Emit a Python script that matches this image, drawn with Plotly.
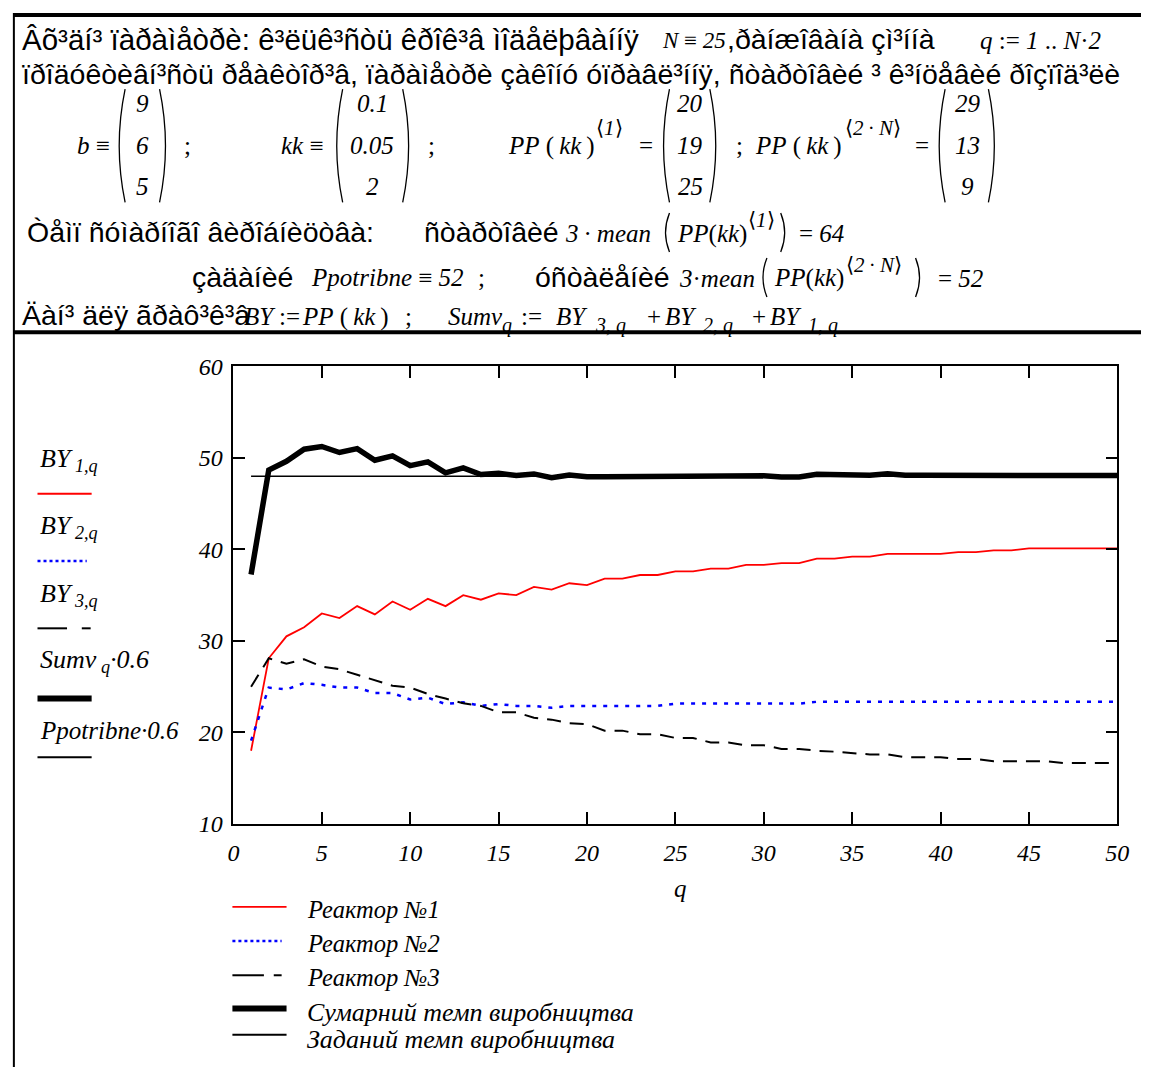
import plotly.graph_objects as go

# ---------------- data ----------------
q = list(range(1, 51))

BY1 = [18.0, 28.1, 30.5, 31.5, 33.0, 32.5, 33.8, 32.9, 34.3, 33.4,
       34.6, 33.8, 35.0, 34.5, 35.2, 35.0, 35.9, 35.6, 36.3, 36.1,
       36.8, 36.8, 37.2, 37.2, 37.6, 37.6, 37.9, 37.9, 38.3, 38.3,
       38.5, 38.5, 39.0, 39.0, 39.2, 39.2, 39.5, 39.5, 39.5, 39.5,
       39.7, 39.7, 39.9, 39.9, 40.1, 40.1, 40.1, 40.1, 40.1, 40.1]

BY2 = [19.1, 24.9, 24.7, 25.4, 25.2, 24.9, 24.9, 24.3, 24.3, 23.6,
       23.8, 23.1, 23.3, 22.9, 23.1, 22.9, 22.9, 22.7, 22.9, 22.9,
       22.9, 22.9, 22.9, 22.9, 23.15, 23.15, 23.15, 23.15, 23.15, 23.15,
       23.15, 23.15, 23.35, 23.35, 23.35, 23.35, 23.35, 23.35, 23.35, 23.35,
       23.35, 23.35, 23.35, 23.35, 23.35, 23.35, 23.35, 23.35, 23.35, 23.35]

BY3 = [25.0, 28.1, 27.5, 28.0, 27.2, 26.9, 26.3, 25.7, 25.1, 24.9,
       24.2, 23.7, 23.2, 22.9, 22.2, 22.2, 21.6, 21.4, 21.0, 20.9,
       20.2, 20.2, 19.8, 19.8, 19.4, 19.4, 18.9, 18.9, 18.6, 18.6,
       18.2, 18.2, 18.0, 17.9, 17.75, 17.6, 17.6, 17.3, 17.3, 17.3,
       17.1, 17.1, 16.85, 16.85, 16.85, 16.85, 16.65, 16.65, 16.65, 16.65]

SCALE = 0.6
# Sumv_q = BY3 + BY2 + BY1 (as defined in the worksheet), plotted times 0.6
SUMV_06 = [SCALE * (a + b + c) for a, b, c in zip(BY1, BY2, BY3)]
PPOTRIBNE_06 = 48.0
PP_LINE = [PPOTRIBNE_06 for _ in q]

X_TICKS = [0, 5, 10, 15, 20, 25, 30, 35, 40, 45, 50]
Y_TICKS = [10, 20, 30, 40, 50, 60]

B_VEC = ["9", "6", "5"]
KK_VEC = ["0.1", "0.05", "2"]
PP1_VEC = ["20", "19", "25"]
PP2N_VEC = ["29", "13", "9"]

LEGEND_NAMES = ["Реактор №1", "Реактор №2", "Реактор №3",
                "Сумарний темп виробництва", "Заданий темп виробництва"]

# ---------------- helpers ----------------
W, H = 1153, 1080
SANS = "Liberation Sans, Arial, sans-serif"
SERIF = "Liberation Serif, Times New Roman, serif"
SANS_SIZE = 28.5
MATH_SIZE = 25
SUP_SIZE = 21
SUB_SIZE = 20
SP = "\u00a0"
TH = "\u2009"


def moj(s):
    """Text as shown in the worksheet (cp1251 bytes displayed as Latin-1)."""
    return s.encode("cp1251").decode("latin-1")


def X(px):
    return px / W


def Y(py):
    return 1 - py / H


annotations = []
shapes = []


def txt(x, y, s, size=SANS_SIZE, family=SANS, italic=False, anchor="left", color="black"):
    annotations.append(dict(
        x=X(x), y=Y(y), xref="paper", yref="paper", text=s, showarrow=False,
        xanchor=anchor, yanchor="middle", borderpad=0,
        font=dict(family=family, size=size, color=color,
                  style="italic" if italic else "normal")))


def math(x, y, s, size=MATH_SIZE, anchor="left"):
    txt(x, y, s, size=size, family=SERIF, anchor=anchor)


def hline(x0, x1, y, width=1.5, color="black", dash="solid"):
    shapes.append(dict(type="line", xref="paper", yref="paper",
                       x0=X(x0), x1=X(x1), y0=Y(y), y1=Y(y),
                       line=dict(color=color, width=width, dash=dash)))


def vline(x, y0, y1, width=1.5, color="black"):
    shapes.append(dict(type="line", xref="paper", yref="paper",
                       x0=X(x), x1=X(x), y0=Y(y0), y1=Y(y1),
                       line=dict(color=color, width=width)))


def paren(x, top, bot, left=True, width=1.3, bulge=12, reach=8):
    mid = (top + bot) / 2
    if left:
        p = f"M {X(x+reach)},{Y(top)} Q {X(x+reach-bulge)},{Y(mid)} {X(x+reach)},{Y(bot)}"
    else:
        p = f"M {X(x-reach)},{Y(top)} Q {X(x-reach+bulge)},{Y(mid)} {X(x-reach)},{Y(bot)}"
    shapes.append(dict(type="path", xref="paper", yref="paper", path=p,
                       line=dict(color="black", width=width)))


def matrix(xl, xr, xc, vals):
    paren(xl, 78, 194, left=True)
    paren(xr, 78, 194, left=False)
    for v, yy in zip(vals, [93, 136, 178]):
        txt(xc, yy, v, size=MATH_SIZE, family=SERIF, italic=True, anchor="center")


PPKK_W = f"<i>PP</i>{SP}({TH}<i>kk</i>{TH})"
PPKK_N = "<i>PP</i>(<i>kk</i>)"
SUP1 = "⟨<i>1</i>⟩"
SUP2N = f"⟨<i>2</i>{TH}·{TH}<i>N</i>⟩"
MEAN3_W = f"<i>3</i>{TH}·{TH}<i>mean</i>"
MEAN3_N = "<i>3</i>·<i>mean</i>"

# ---------------- worksheet frame lines ----------------
hline(8, W, 2, width=4)
vline(8, 0, H, width=2)
hline(8, W, 327, width=4)

# ---------------- top text block ----------------
txt(15, 27, moj("Вхідні параметри: кількість кроків моделювання"), size=29.5)
math(665, 28, f"<i>N</i>{SP}≡{SP}<i>25</i>", size=23)
txt(731, 27, moj(",ранжована змінна"))
math(988, 28, f"<i>q</i>{SP}:={SP}<i>1</i>{SP}..{SP}<i>N</i>·<i>2</i>")
txt(15, 62, moj("продуктивність реакторів, параметри закону управління, стартовий і кінцевий розподіли"))

math(107, 136, f"<i>b</i>{SP}≡", anchor="right")
matrix(113, 164, 139, B_VEC)
math(180, 136, ";")
math(324, 136, f"<i>kk</i>{SP}≡", anchor="right")
matrix(334, 411, 372, KK_VEC)
math(428, 136, ";")
math(509, 136, PPKK_W)
math(598, 118, SUP1, size=SUP_SIZE)
math(642, 136, "=")
matrix(666, 723, 695, PP1_VEC)
math(741, 136, ";")
math(760, 136, PPKK_W)
math(851, 118, SUP2N, size=SUP_SIZE)
math(922, 136, "=")
matrix(946, 1006, 977, PP2N_VEC)

# line: total production rate
txt(20, 224, moj("Темп сумарного виробництва:"))
txt(424, 224, moj("стартовий"))
math(567, 226, MEAN3_W)
paren(668, 205, 245, left=True, width=1.3, bulge=8, reach=6)
math(681, 226, PPKK_N)
math(753, 212, SUP1, size=SUP_SIZE)
paren(793, 205, 245, left=False, width=1.3, bulge=8, reach=6)
math(805, 226, f"={SP}<i>64</i>")

txt(188, 270, moj("заданий"))
math(309, 271, f"<i>Ppotribne</i>{SP}≡{SP}<i>52</i>")
math(478, 271, ";")
txt(536, 270, moj("усталений"))
math(683, 272, MEAN3_N)
paren(767, 251, 291, left=True, width=1.3, bulge=8, reach=6)
math(779, 272, PPKK_N)
math(852, 258, SUP2N, size=SUP_SIZE)
paren(930, 251, 291, left=False, width=1.3, bulge=8, reach=6)
math(946, 272, f"={SP}<i>52</i>")

txt(15, 309, moj("Дані для графіків"))
LINE5 = [(241, "<i>BY</i>"), (276, ":="), (300, PPKK_W), (404, ";"),
         (448, "<i>Sumv</i>"), (522, ":="),
         (558, "<i>BY</i>"), (650, "+"),
         (668, "<i>BY</i>"), (757, "+"),
         (775, "<i>BY</i>")]
for xx, s in LINE5:
    math(xx, 311, s)
LINE5_SUBS = [(503, "<i>q</i>"), (597, f"<i>3</i>,{SP}<i>q</i>"),
              (707, f"<i>2</i>,{SP}<i>q</i>"), (814, f"<i>1</i>,{SP}<i>q</i>")]
for xx, s in LINE5_SUBS:
    math(xx, 320, s, size=SUB_SIZE)

# ---------------- left legend (Mathcad trace labels) ----------------
LX = 34
LS = 26
math(LX, 458, f"<i>BY<sub>{SP}1,q</sub></i>", size=LS)
hline(32, 87, 492.5, width=2, color="red")
math(LX, 527, f"<i>BY<sub>{SP}2,q</sub></i>", size=LS)
hline(32, 82, 561.5, width=2.5, color="blue", dash="dot")
math(LX, 596, f"<i>BY<sub>{SP}3,q</sub></i>", size=LS)
hline(32, 62, 630.5, width=2)
hline(77, 86, 630.5, width=2)
math(LX, 664, f"<i>Sumv<sub>{SP}q</sub></i><i>·0.6</i>", size=LS)
hline(32, 87, 702.5, width=6)
math(LX, 735, "<i>Ppotribne·0.6</i>", size=LS - 1)
hline(32, 87, 762.5, width=2)

# ---------------- bottom legend ----------------
txt(685, 897, "q", size=25, family=SERIF, italic=True, anchor="center")
LEG_Y = [919, 953, 988, 1024, 1052]
LEG_SIZE = [24.5, 24.5, 24.5, 26, 26]
LINE_Y = [916, 951, 986, 1020, 1047]
for name, yy, sz in zip(LEGEND_NAMES, LEG_Y, LEG_SIZE):
    txt(305, yy, name, size=sz, family=SERIF, italic=True)
hline(230, 285, LINE_Y[0], width=1.8, color="red")
hline(230, 280, LINE_Y[1], width=2.5, color="blue", dash="dot")
hline(230, 262, LINE_Y[2], width=2)
hline(272, 280, LINE_Y[2], width=2)
hline(230, 285, LINE_Y[3], width=6)
hline(230, 285, LINE_Y[4], width=2)

# ---------------- chart ----------------
fig = go.Figure()
fig.add_trace(go.Scatter(x=q, y=BY1, mode="lines", line=dict(color="red", width=1.8),
                         name="BY1", showlegend=False))
fig.add_trace(go.Scatter(x=q, y=BY2, mode="lines",
                         line=dict(color="blue", width=2.5, dash="4px,7px"),
                         name="BY2", showlegend=False))
fig.add_trace(go.Scatter(x=q, y=BY3, mode="lines",
                         line=dict(color="black", width=2, dash="14px,9px"),
                         name="BY3", showlegend=False))
fig.add_trace(go.Scatter(x=q, y=PP_LINE, mode="lines", line=dict(color="black", width=1.5),
                         name="Ppotribne·0.6", showlegend=False))
fig.add_trace(go.Scatter(x=q, y=SUMV_06, mode="lines", line=dict(color="black", width=5.5),
                         name="Sumv·0.6", showlegend=False))

axis_common = dict(showgrid=False, zeroline=False, showline=True, linecolor="black",
                   linewidth=1.5, mirror="ticks", ticks="inside", ticklen=12,
                   tickwidth=1.5, tickcolor="black",
                   tickfont=dict(family=SERIF, size=24, color="black", style="italic"))

fig.update_xaxes(range=[0, 50], tickvals=X_TICKS, ticktext=[str(v) for v in X_TICKS],
                 domain=[X(231), X(1129)], ticklabelstandoff=6, **axis_common)
fig.update_yaxes(range=[10, 60], tickvals=Y_TICKS, ticktext=[str(v) for v in Y_TICKS],
                 domain=[Y(831), Y(362)], ticklabelstandoff=4, **axis_common)

fig.update_layout(width=W, height=H, margin=dict(l=0, r=0, t=0, b=0),
                  paper_bgcolor="white", plot_bgcolor="white",
                  showlegend=False, annotations=annotations, shapes=shapes)

fig.write_html(
    "out.html",
    post_script="document.body.style.margin='0';document.body.style.overflow='hidden';"
                "document.documentElement.style.overflow='hidden';",
)
